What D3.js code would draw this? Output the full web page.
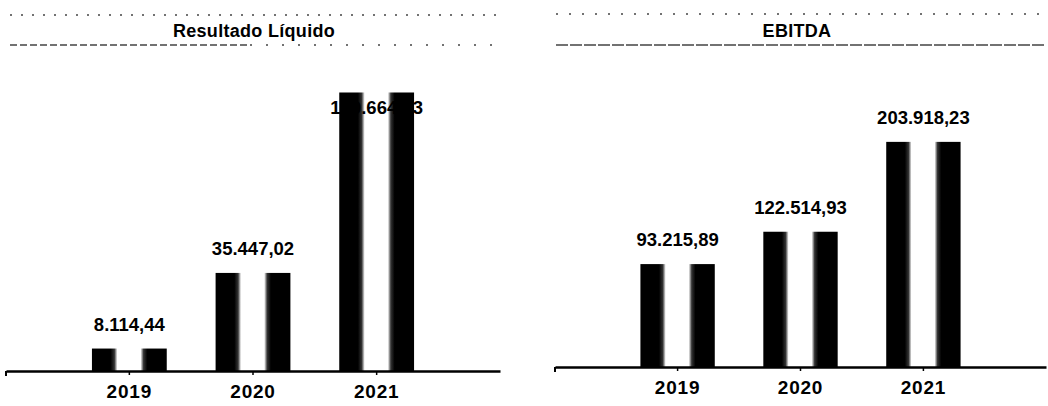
<!DOCTYPE html>
<html>
<head>
<meta charset="utf-8">
<script src="https://cdn.jsdelivr.net/npm/d3@7"></script>
<style>
  html, body { margin: 0; padding: 0; background: #fff; }
  svg { display: block; }
  text { font-family: "Liberation Sans", Arial, sans-serif; font-weight: bold; fill: #000; }
</style>
</head>
<body>
<svg id="chart" width="1048" height="406"></svg>
<script>
const categories = ["2019", "2020", "2021"];
const resultadoValues = [8114.44, 35447.02, 100664.13];
const resultadoLabels = ["8.114,44", "35.447,02", "100.664,13"];
const ebitdaValues = [93215.89, 122514.93, 203918.23];
const ebitdaLabels = ["93.215,89", "122.514,93", "203.918,23"];
const titles = ["Resultado Líquido", "EBITDA"];

const svg = d3.select("#chart");
const defs = svg.append("defs");
const grad = defs.append("linearGradient").attr("id", "cyl").attr("x1", "0").attr("x2", "1").attr("y1", "0").attr("y2", "0");
[[0, "#000"], [0.25, "#000"], [0.30, "#333"], [0.34, "#fff"], [0.65, "#fff"], [0.69, "#333"], [0.74, "#000"], [1, "#000"]]
  .forEach(([o, c]) => grad.append("stop").attr("offset", o).attr("stop-color", c));

const panels = [
  { title: titles[0], values: resultadoValues, labels: resultadoLabels,
    xRange: [6, 500], base: 371, yMax: 120000, yTop: 39, titleX: 254, minLabelY: 114,
    dashTop: { y: 15, x0: 10, x1: 500, dash: "2,9" }, dashBot: { y: 45, x0: 10, x1: 250, dash: "7,3" },
    dashBot2: { y: 45, x0: 250, x1: 500, dash: "2,14" } },
  { title: titles[1], values: ebitdaValues, labels: ebitdaLabels,
    xRange: [555, 1046], base: 367, yMax: 250000, yTop: 91, titleX: 797, minLabelY: 60,
    dashTop: { y: 14, x0: 556, x1: 1046, dash: "2,11" }, dashBot: { y: 45, x0: 556, x1: 1046, dash: "12,2" },
    dashBot2: null }
];

panels.forEach(p => {
  const g = svg.append("g");
  const x = d3.scaleBand().domain(categories).range(p.xRange).paddingInner(0.395).paddingOuter(0.695);
  const y = d3.scaleLinear().domain([0, p.yMax]).range([p.base, p.yTop]);

  // decorative dotted rules around title
  [p.dashTop, p.dashBot, p.dashBot2].filter(Boolean).forEach(d => {
    g.append("line").attr("x1", d.x0).attr("x2", d.x1).attr("y1", d.y).attr("y2", d.y)
      .attr("stroke", "#444").attr("stroke-width", 1.5).attr("stroke-dasharray", d.dash);
  });

  g.append("text").attr("x", p.titleX).attr("y", 37).attr("text-anchor", "middle")
    .style("font-size", "18px").style("letter-spacing", "0.3px").text(p.title);

  g.selectAll("rect.bar").data(p.values).join("rect").attr("class", "bar")
    .attr("x", (d, i) => x(categories[i]))
    .attr("width", x.bandwidth())
    .attr("y", d => y(d))
    .attr("height", d => p.base - y(d))
    .attr("fill", "url(#cyl)");

  g.selectAll("text.val").data(p.values).join("text").attr("class", "val")
    .attr("x", (d, i) => x(categories[i]) + x.bandwidth() / 2)
    .attr("y", d => Math.max(y(d) - 18, p.minLabelY))
    .attr("text-anchor", "middle")
    .style("font-size", "18.5px").style("letter-spacing", "0px")
    .text((d, i) => p.labels[i]);

  const axis = d3.axisBottom(x).tickSize(4).tickSizeOuter(0).tickPadding(10);
  const ag = g.append("g").attr("transform", `translate(0,${p.base})`).call(axis);
  ag.select(".domain").attr("stroke", "#000").attr("stroke-width", 2.5);
  ag.selectAll(".tick line").attr("stroke", "#000").attr("stroke-width", 1.5);
  ag.selectAll(".tick text").style("font-size", "19px").style("letter-spacing", "0.8px")
    .style("font-family", "'Liberation Sans', Arial, sans-serif").style("font-weight", "bold").attr("fill", "#000");
  // end tick at left of axis
  ag.append("line").attr("x1", p.xRange[0]).attr("x2", p.xRange[0]).attr("y1", 0).attr("y2", 5)
    .attr("stroke", "#000").attr("stroke-width", 2);
});
</script>
</body>
</html>
